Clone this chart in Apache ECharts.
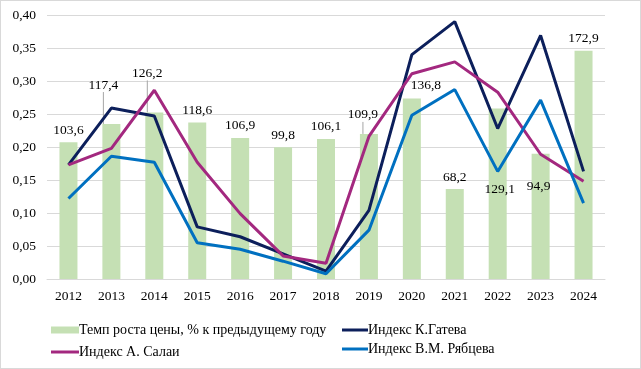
<!DOCTYPE html>
<html><head><meta charset="utf-8">
<script src="https://cdn.jsdelivr.net/npm/echarts@6/dist/echarts.min.js"></script>
<style>html,body{margin:0;padding:0;background:#fff}#c{width:641px;height:369px;box-sizing:border-box;border:1px solid #d9d9d9}</style>
</head><body><div id="c"></div>
<script>
const years = ['2012','2013','2014','2015','2016','2017','2018','2019','2020','2021','2022','2023','2024'];
const priceGrowth = [103.6,117.4,126.2,118.6,106.9,99.8,106.1,109.9,136.8,68.2,129.1,94.9,172.9];
const gatev = [0.173,0.259,0.247,0.079,0.064,0.038,0.012,0.104,0.340,0.390,0.228,0.369,0.163];
const salai = [0.173,0.198,0.286,0.177,0.099,0.035,0.024,0.216,0.311,0.329,0.283,0.189,0.148];
const ryabtsev = [0.122,0.186,0.177,0.055,0.045,0.027,0.008,0.074,0.248,0.287,0.163,0.271,0.115];
const yTicks = [0,0.05,0.10,0.15,0.20,0.25,0.30,0.35,0.40];

const names = {
  bar: 'Темп роста цены, % к предыдущему году',
  g: 'Индекс К.Гатева',
  s: 'Индекс А. Салаи',
  r: 'Индекс В.М. Рябцева'
};
// label nudges (styling, by index)
const nudge = {1:[-8,-27],2:[-7,-27],7:[-6,-7],8:[14,-1],10:[2,93],11:[-2,45]};
const leader = {1:true,2:true,7:true};
const font = 'Liberation Serif';
const fmt = v => String(v).replace('.', ',');

const chart = echarts.init(document.getElementById('c'));
const lineStyle = c => ({type:'line', symbol:'none', smooth:false, lineStyle:{width:3, color:c}, itemStyle:{color:c}, z:3});
const legText = {fontSize:14, fontFamily:font, color:'#000', padding:[0,0,0,-5]};
chart.setOption({
  animation:false,
  textStyle:{fontFamily:font},
  grid:{left:46, right:35, top:14, bottom:89},
  xAxis:{type:'category', data:years, axisTick:{show:false},
    axisLine:{lineStyle:{color:'#d9d9d9', width:1}},
    axisLabel:{color:'#000', fontSize:13.5, fontFamily:font, margin:10}},
  yAxis:[
    {type:'value', min:0, max:0.4, interval:0.05,
     axisLabel:{color:'#000', fontSize:13.5, fontFamily:font, margin:11, formatter:v=>v.toFixed(2).replace('.',',')},
     splitLine:{lineStyle:{color:'#d9d9d9'}}, axisLine:{show:false}, axisTick:{show:false}},
    {type:'value', min:0, max:200, show:false, splitLine:{show:false}}
  ],
  legend:[
    {left:45, top:317, itemWidth:28, itemHeight:7, icon:'rect', textStyle:legText, data:[names.bar]},
    {left:45, top:339, itemWidth:28, itemHeight:3, icon:'rect', textStyle:legText, data:[names.s]},
    {left:336, top:317, itemWidth:26, itemHeight:3, icon:'rect', orient:'vertical', itemGap:5,
     textStyle:legText, data:[names.g, names.r]}
  ],
  series:[
    {name:names.bar, type:'bar', yAxisIndex:1, barWidth:18, z:1,
     itemStyle:{color:'#c5e0b4'},
     data: priceGrowth.map((v,i)=>({value:v, labelLine:{show:!!leader[i], lineStyle:{color:'#a6a6a6', width:1}}})),
     label:{show:true, position:'top', distance:5, color:'#000', fontSize:13.5, fontFamily:font, formatter:p=>fmt(p.value)},
     labelLine:{show:false, lineStyle:{color:'#a6a6a6', width:1}},
     labelLayout:p=>{const n=nudge[p.dataIndex]; return n?{dx:n[0],dy:n[1]}:{};}
    },
    Object.assign({name:names.g, data:gatev}, lineStyle('#0c1f5b')),
    Object.assign({name:names.s, data:salai}, lineStyle('#a3287f')),
    Object.assign({name:names.r, data:ryabtsev}, lineStyle('#0070c0'))
  ]
});
</script></body></html>
